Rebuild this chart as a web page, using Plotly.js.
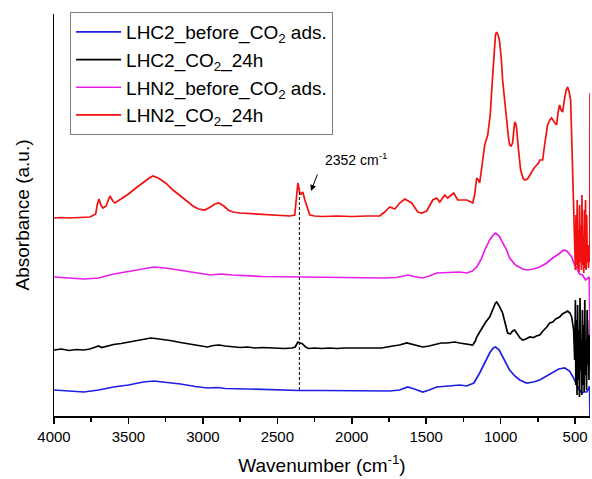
<!DOCTYPE html>
<html>
<head>
<meta charset="utf-8">
<script src="https://cdn.plot.ly/plotly-3.0.1.min.js"></script>
<style>html,body{margin:0;padding:0;background:#fff;}#chart{width:592px;height:479px;}</style>
</head>
<body>
<div id="chart"></div>
<script>
// Wavenumbers (cm-1) and absorbance (a.u., offset stacked)
var blueWn = [4000,3900,3800,3700,3600,3500,3400,3330,3250,3150,3050,2970,2900,2850,2700,2500,2352,2200,2000,1800,1745,1680,1624,1580,1523,1480,1430,1350,1275,1228,1180,1141,1107,1074,1050,1034,1010,987,960,940,905,872,826,780,738,690,651,610,570,537,510,490,470,456,440,423,410,403,400];
var blueAbs = [0.26,0.25,0.24,0.26,0.29,0.31,0.34,0.35,0.34,0.32,0.295,0.28,0.285,0.275,0.27,0.26,0.255,0.255,0.255,0.255,0.25,0.26,0.29,0.27,0.24,0.26,0.29,0.30,0.31,0.30,0.33,0.43,0.54,0.63,0.68,0.69,0.66,0.59,0.52,0.46,0.40,0.36,0.33,0.34,0.36,0.40,0.44,0.47,0.48,0.45,0.38,0.31,0.26,0.23,0.24,0.24,0.27,0.30,-0.04];

var blackWn = [4000,3950,3900,3850,3800,3760,3720,3700,3680,3640,3600,3550,3500,3450,3400,3350,3320,3280,3220,3150,3100,3050,2990,2970,2930,2890,2850,2800,2750,2700,2650,2600,2550,2500,2450,2400,2380,2362,2345,2330,2310,2290,2250,2200,2150,2100,2050,2000,1950,1900,1850,1800,1725,1680,1631,1580,1523,1480,1430,1400,1362,1330,1309,1275,1240,1200,1188,1170,1161,1145,1121,1100,1074,1050,1035,1027,1010,987,970,953,935,920,906,890,870,852,830,805,780,760,738,710,690,671,650,630,604,585,565,550,535,523,510,503,498,495,491,487,483,479,475,471,467,463,459,455,451,447,443,439,435,431,427,423,419,415,411,407,403,400];
var blackAbs = [0.66,0.67,0.655,0.665,0.66,0.67,0.69,0.70,0.685,0.70,0.715,0.725,0.74,0.75,0.765,0.78,0.775,0.77,0.755,0.735,0.72,0.71,0.695,0.69,0.705,0.71,0.70,0.69,0.685,0.69,0.68,0.685,0.68,0.68,0.675,0.68,0.69,0.74,0.73,0.72,0.69,0.675,0.68,0.675,0.68,0.675,0.68,0.68,0.675,0.68,0.68,0.68,0.70,0.71,0.73,0.71,0.69,0.70,0.72,0.73,0.73,0.74,0.74,0.73,0.72,0.71,0.71,0.75,0.79,0.83,0.89,0.94,0.99,1.08,1.13,1.14,1.10,1.03,0.94,0.83,0.82,0.85,0.86,0.82,0.78,0.76,0.77,0.79,0.785,0.80,0.81,0.86,0.89,0.93,0.94,0.97,0.99,1.02,1.04,1.05,1.03,0.99,0.86,0.56,1.16,0.31,0.96,0.21,1.11,0.36,0.86,0.19,1.18,0.46,0.76,0.21,1.06,0.31,0.91,0.24,1.16,0.41,0.76,0.26,1.06,0.51,0.81,0.36,0.96,0.86];

var magentaWn = [4000,3900,3800,3700,3600,3500,3400,3330,3250,3150,3050,2950,2880,2800,2600,2352,2000,1792,1700,1624,1580,1523,1480,1430,1350,1275,1228,1190,1161,1130,1107,1074,1050,1034,1010,987,960,940,900,852,826,780,738,690,651,610,577,555,537,523,503,490,470,450,430,416,405,400];
var magentaAbs = [1.39,1.38,1.37,1.38,1.42,1.445,1.475,1.49,1.48,1.455,1.43,1.41,1.42,1.41,1.395,1.39,1.39,1.38,1.385,1.41,1.395,1.38,1.40,1.43,1.435,1.44,1.43,1.45,1.49,1.57,1.66,1.76,1.81,1.83,1.80,1.73,1.66,1.58,1.51,1.47,1.46,1.47,1.49,1.53,1.58,1.62,1.66,1.65,1.61,1.59,1.51,1.48,1.42,1.41,1.36,1.38,1.39,0.81];

var redWn = [4000,3950,3900,3850,3800,3758,3720,3710,3698,3685,3671,3650,3635,3624,3605,3591,3550,3500,3450,3400,3360,3336,3300,3250,3201,3150,3100,3067,3030,2987,2950,2920,2893,2860,2830,2799,2750,2700,2638,2550,2470,2416,2383,2372,2362,2355,2349,2340,2329,2315,2302,2282,2250,2200,2100,2000,1900,1812,1779,1760,1745,1711,1678,1644,1597,1557,1530,1497,1456,1430,1409,1376,1356,1340,1315,1289,1260,1228,1200,1188,1175,1161,1150,1141,1125,1107,1087,1070,1060,1045,1035,1027,1015,1007,995,987,975,960,948,940,930,920,912,906,898,893,880,866,850,839,820,805,792,775,758,745,738,718,705,685,670,658,640,624,614,604,594,584,570,560,550,540,530,517,508,503,498,494,490,486,482,478,474,470,466,462,458,454,450,446,442,438,434,430,426,422,418,414,410,405,402,400];
var redAbs = [1.98,1.985,1.98,1.985,1.985,1.99,2.02,2.11,2.17,2.11,2.08,2.10,2.16,2.20,2.15,2.13,2.17,2.22,2.28,2.34,2.38,2.40,2.38,2.33,2.26,2.20,2.14,2.10,2.07,2.06,2.09,2.12,2.13,2.10,2.06,2.04,2.03,2.025,2.02,2.01,2.005,2.00,2.01,2.16,2.33,2.28,2.23,2.22,2.24,2.16,2.09,2.01,2.00,1.995,2.00,1.995,2.00,2.00,2.04,2.07,2.09,2.07,2.13,2.17,2.13,2.04,2.03,2.05,2.16,2.18,2.14,2.21,2.18,2.20,2.23,2.16,2.16,2.16,2.14,2.13,2.21,2.38,2.36,2.33,2.51,2.71,2.81,3.01,3.26,3.61,3.81,3.84,3.80,3.74,3.56,3.36,3.16,2.96,2.79,2.71,2.70,2.73,2.86,2.94,2.92,2.88,2.66,2.46,2.38,2.36,2.37,2.41,2.44,2.48,2.51,2.53,2.56,2.56,2.71,2.91,2.96,2.98,2.94,2.91,3.04,3.11,3.06,3.04,3.18,3.26,3.29,3.24,3.16,2.36,1.86,1.76,1.46,2.01,1.51,2.16,1.48,1.86,1.44,2.11,1.54,1.91,1.46,2.21,1.51,1.81,1.43,2.06,1.48,2.16,1.46,2.01,1.54,1.71,1.48,1.66,1.54,3.23];

var seriesNames = ['LHC2_before_CO<sub>2</sub> ads.','LHC2_CO<sub>2</sub>_24h','LHN2_before_CO<sub>2</sub> ads.','LHN2_CO<sub>2</sub>_24h'];
var seriesColors = ['#1f1fe6','#000000','#e81ee8','#f01010'];

var majorTicks = [4000,3500,3000,2500,2000,1500,1000,500];
var minorTicks = [3750,3250,2750,2250,1750,1250,750];

var markWn = 2352;               // CO2 band marked by the dashed line
var markTop = 2.24, markBottom = 0.26;
var arrowHeadWn = 2274, arrowHeadAbs = 2.25;
var labelWn = 1975, labelAbs = 2.57;

var font = 'Arial, "Liberation Sans", sans-serif';
var xs = [blueWn, blackWn, magentaWn, redWn];
var ys = [blueAbs, blackAbs, magentaAbs, redAbs];
var traces = [];
for (var i = 0; i < 4; i++) {
  traces.push({x: xs[i], y: ys[i], type: 'scatter', mode: 'lines', name: seriesNames[i],
    line: {color: seriesColors[i], width: 1.7}});
}
traces.push({x: [markWn, markWn], y: [markTop, markBottom], type: 'scatter', mode: 'lines',
  showlegend: false, hoverinfo: 'skip', line: {color: '#000', width: 1, dash: '3px,2px'}});

var layout = {
  width: 592, height: 479,
  margin: {l: 54, r: 2, t: 14, b: 63},
  paper_bgcolor: '#fff', plot_bgcolor: '#fff',
  font: {family: font, color: '#000'},
  xaxis: {
    range: [4000, 400], showline: true, linecolor: '#000', linewidth: 1.5,
    ticks: 'outside', ticklen: 6, tickwidth: 1.5, tickcolor: '#000',
    tickvals: majorTicks, ticktext: majorTicks.map(String),
    tickfont: {size: 15, family: font},
    minor: {tickvals: minorTicks, ticks: 'outside', ticklen: 4, tickwidth: 1.5, tickcolor: '#000'},
    showgrid: false, zeroline: false,
    title: {text: 'Wavenumber (cm<sup>-1</sup>)', font: {size: 19, family: font}, standoff: 15}
  },
  yaxis: {
    range: [0, 4.02], showline: true, linecolor: '#000', linewidth: 1.5,
    ticks: '', showticklabels: false, showgrid: false, zeroline: false,
    title: {text: 'Absorbance (a.u.)', font: {size: 19, family: font}, standoff: 18}
  },
  legend: {
    x: 0.03, y: 1.005, xanchor: 'left', yanchor: 'top',
    font: {size: 19, family: font}, bgcolor: '#fff',
    bordercolor: '#7f7f7f', borderwidth: 1, itemwidth: 45, tracegroupgap: 0
  },
  annotations: [
    {x: labelWn, y: labelAbs, xref: 'x', yref: 'y', text: '2352 cm<sup>-1</sup>', showarrow: false,
     font: {size: 14, family: font}, xanchor: 'center', yanchor: 'middle'},
    {x: arrowHeadWn, y: arrowHeadAbs, xref: 'x', yref: 'y', text: '', showarrow: true,
     arrowhead: 2, arrowsize: 1.2, arrowwidth: 1, arrowcolor: '#000', ax: 7, ay: -18}
  ],
  showlegend: true
};
Plotly.newPlot('chart', traces, layout, {displayModeBar: false, staticPlot: true});
</script>
</body>
</html>
